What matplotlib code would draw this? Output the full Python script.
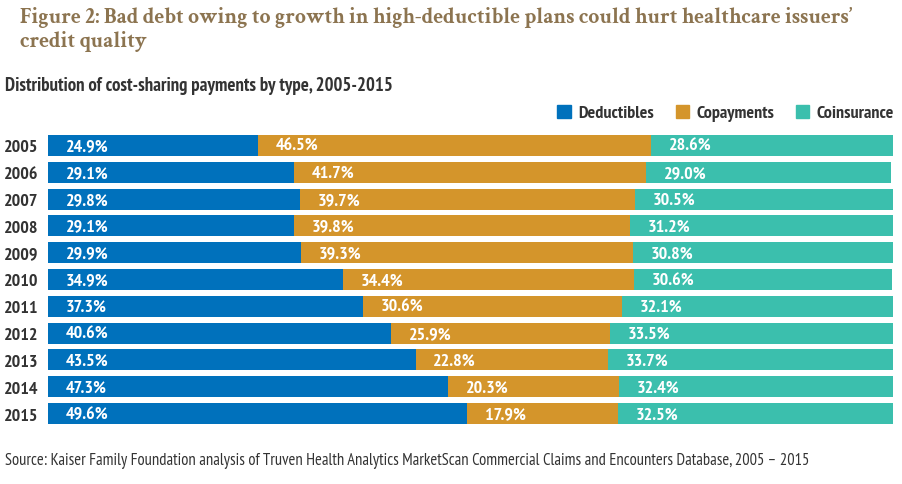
import matplotlib
matplotlib.use("Agg")
import matplotlib.pyplot as plt
from matplotlib.patches import Patch

years = ["2005", "2006", "2007", "2008", "2009", "2010", "2011", "2012", "2013", "2014", "2015"]
deductibles = [24.9, 29.1, 29.8, 29.1, 29.9, 34.9, 37.3, 40.6, 43.5, 47.3, 49.6]
copayments = [46.5, 41.7, 39.7, 39.8, 39.3, 34.4, 30.6, 25.9, 22.8, 20.3, 17.9]
coinsurance = [28.6, 29.0, 30.5, 31.2, 30.8, 30.6, 32.1, 33.5, 33.7, 32.4, 32.5]
series_names = ["Deductibles", "Copayments", "Coinsurance"]

colors = ["#0071BC", "#D4952B", "#3BBFAD"]
narrow = ["PT Sans Narrow", "DejaVu Sans"]
serif = ["Crimson Text", "DejaVu Serif"]
dark = "#333333"

fig = plt.figure(figsize=(9.03, 4.85), dpi=100)
ax = fig.add_axes([48 / 903, 1 - 428 / 485, 845 / 903, 295 / 485])

# stack the three series left to right
left = [0.0] * len(years)
for vals, col in zip([deductibles, copayments, coinsurance], colors):
    ax.barh(range(len(years)), vals, left=left, height=0.78, color=col, edgecolor="none")
    for i, v in enumerate(vals):
        ax.text(left[i] + 2.1, i + 0.03, "%.1f%%" % v, color="white", fontsize=13,
                fontweight="bold", family=narrow, va="center", ha="left")
    left = [l + v for l, v in zip(left, vals)]

ax.set_xlim(0, 100)
ax.set_ylim(len(years) - 0.5, -0.5)
ax.set_yticks(range(len(years)))
ax.set_yticklabels(years, family=narrow, fontsize=13, fontweight="bold", color=dark)
ax.tick_params(axis="y", length=0, pad=7)
ax.set_xticks([])
for s in ax.spines.values():
    s.set_visible(False)

fig.text(20 / 903, 1 - 7 / 485, "Figure 2: Bad debt owing to growth in high-deductible plans could hurt healthcare issuers\u2019\ncredit quality",
         family=serif, fontweight="bold", fontsize=15.5, color="#8C7450",
         va="top", ha="left", linespacing=1.2)
fig.text(5 / 903, 1 - 86 / 485, "Distribution of cost-sharing payments by type, 2005-2015",
         family=narrow, fontweight="bold", fontsize=13.5, color=dark, va="center")
fig.text(5 / 903, 1 - 461 / 485,
         "Source: Kaiser Family Foundation analysis of Truven Health Analytics MarketScan Commercial Claims and Encounters Database, 2005 \u2013 2015",
         family=narrow, fontsize=11.9, color=dark, va="center")

handles = [Patch(color=c, label=n) for c, n in zip(colors, series_names)]
leg = fig.legend(handles=handles, loc="center right", bbox_to_anchor=(894 / 903, 1 - 114 / 485),
                 ncol=3, frameon=False, handlelength=0.75, handleheight=0.75, handletextpad=0.4,
                 columnspacing=1.2, borderaxespad=0, borderpad=0,
                 prop={"family": narrow, "weight": "bold", "size": 13})
for t in leg.get_texts():
    t.set_color(dark)

fig.savefig("out.png", dpi=100)
